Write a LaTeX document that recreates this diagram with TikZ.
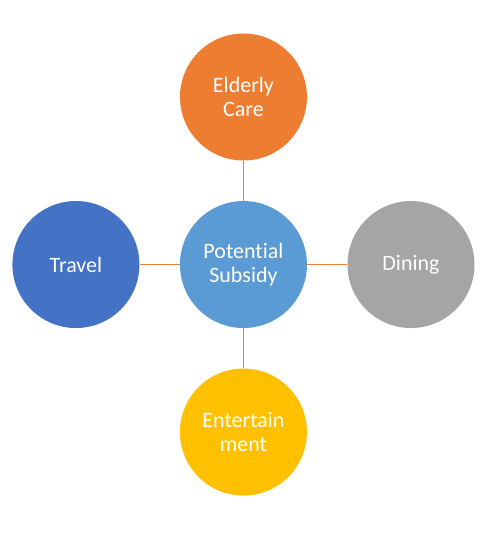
\documentclass[tikz,border=0pt]{standalone}
\usepackage{fontspec}
\setmainfont{Carlito}[Ligatures=CommonOff]
\usepackage{tikz}
\usetikzlibrary{positioning}
\definecolor{subblue}{HTML}{5B9BD5}
\definecolor{careorange}{HTML}{ED7D31}
\definecolor{dinegray}{HTML}{A5A5A5}
\definecolor{funyellow}{HTML}{FFC000}
\definecolor{travelblue}{HTML}{4472C4}
\tikzset{
  bubble/.style={
    circle,
    draw=none,
    minimum size=95.25pt,
    inner sep=0pt,
    align=center,
    text=white,
    font=\fontsize{16.5}{18}\selectfont
  },
  link/.style={draw=careorange, line width=0.8pt}
}

\begin{document}
\begin{tikzpicture}[node distance=30pt and 30pt]
\useasboundingbox (-182.6pt,-206.6pt) rectangle (187.1pt,198.4pt);
\node[bubble, fill=subblue] (subsidy) {Potential\\Subsidy};
\node[bubble, fill=careorange, above=of subsidy] (care) {Elderly\\Care};
\node[bubble, fill=dinegray, right=of subsidy] (dining) {Dining};
\node[bubble, fill=funyellow, below=of subsidy] (fun) {Entertain\\ment};
\node[bubble, fill=travelblue, left=of subsidy] (travel) {Travel};

\draw[link] (subsidy) -- (care);
\draw[link] (subsidy) -- (dining);
\draw[link] (subsidy) -- (fun);
\draw[link] (subsidy) -- (travel);
\end{tikzpicture}
\end{document}
